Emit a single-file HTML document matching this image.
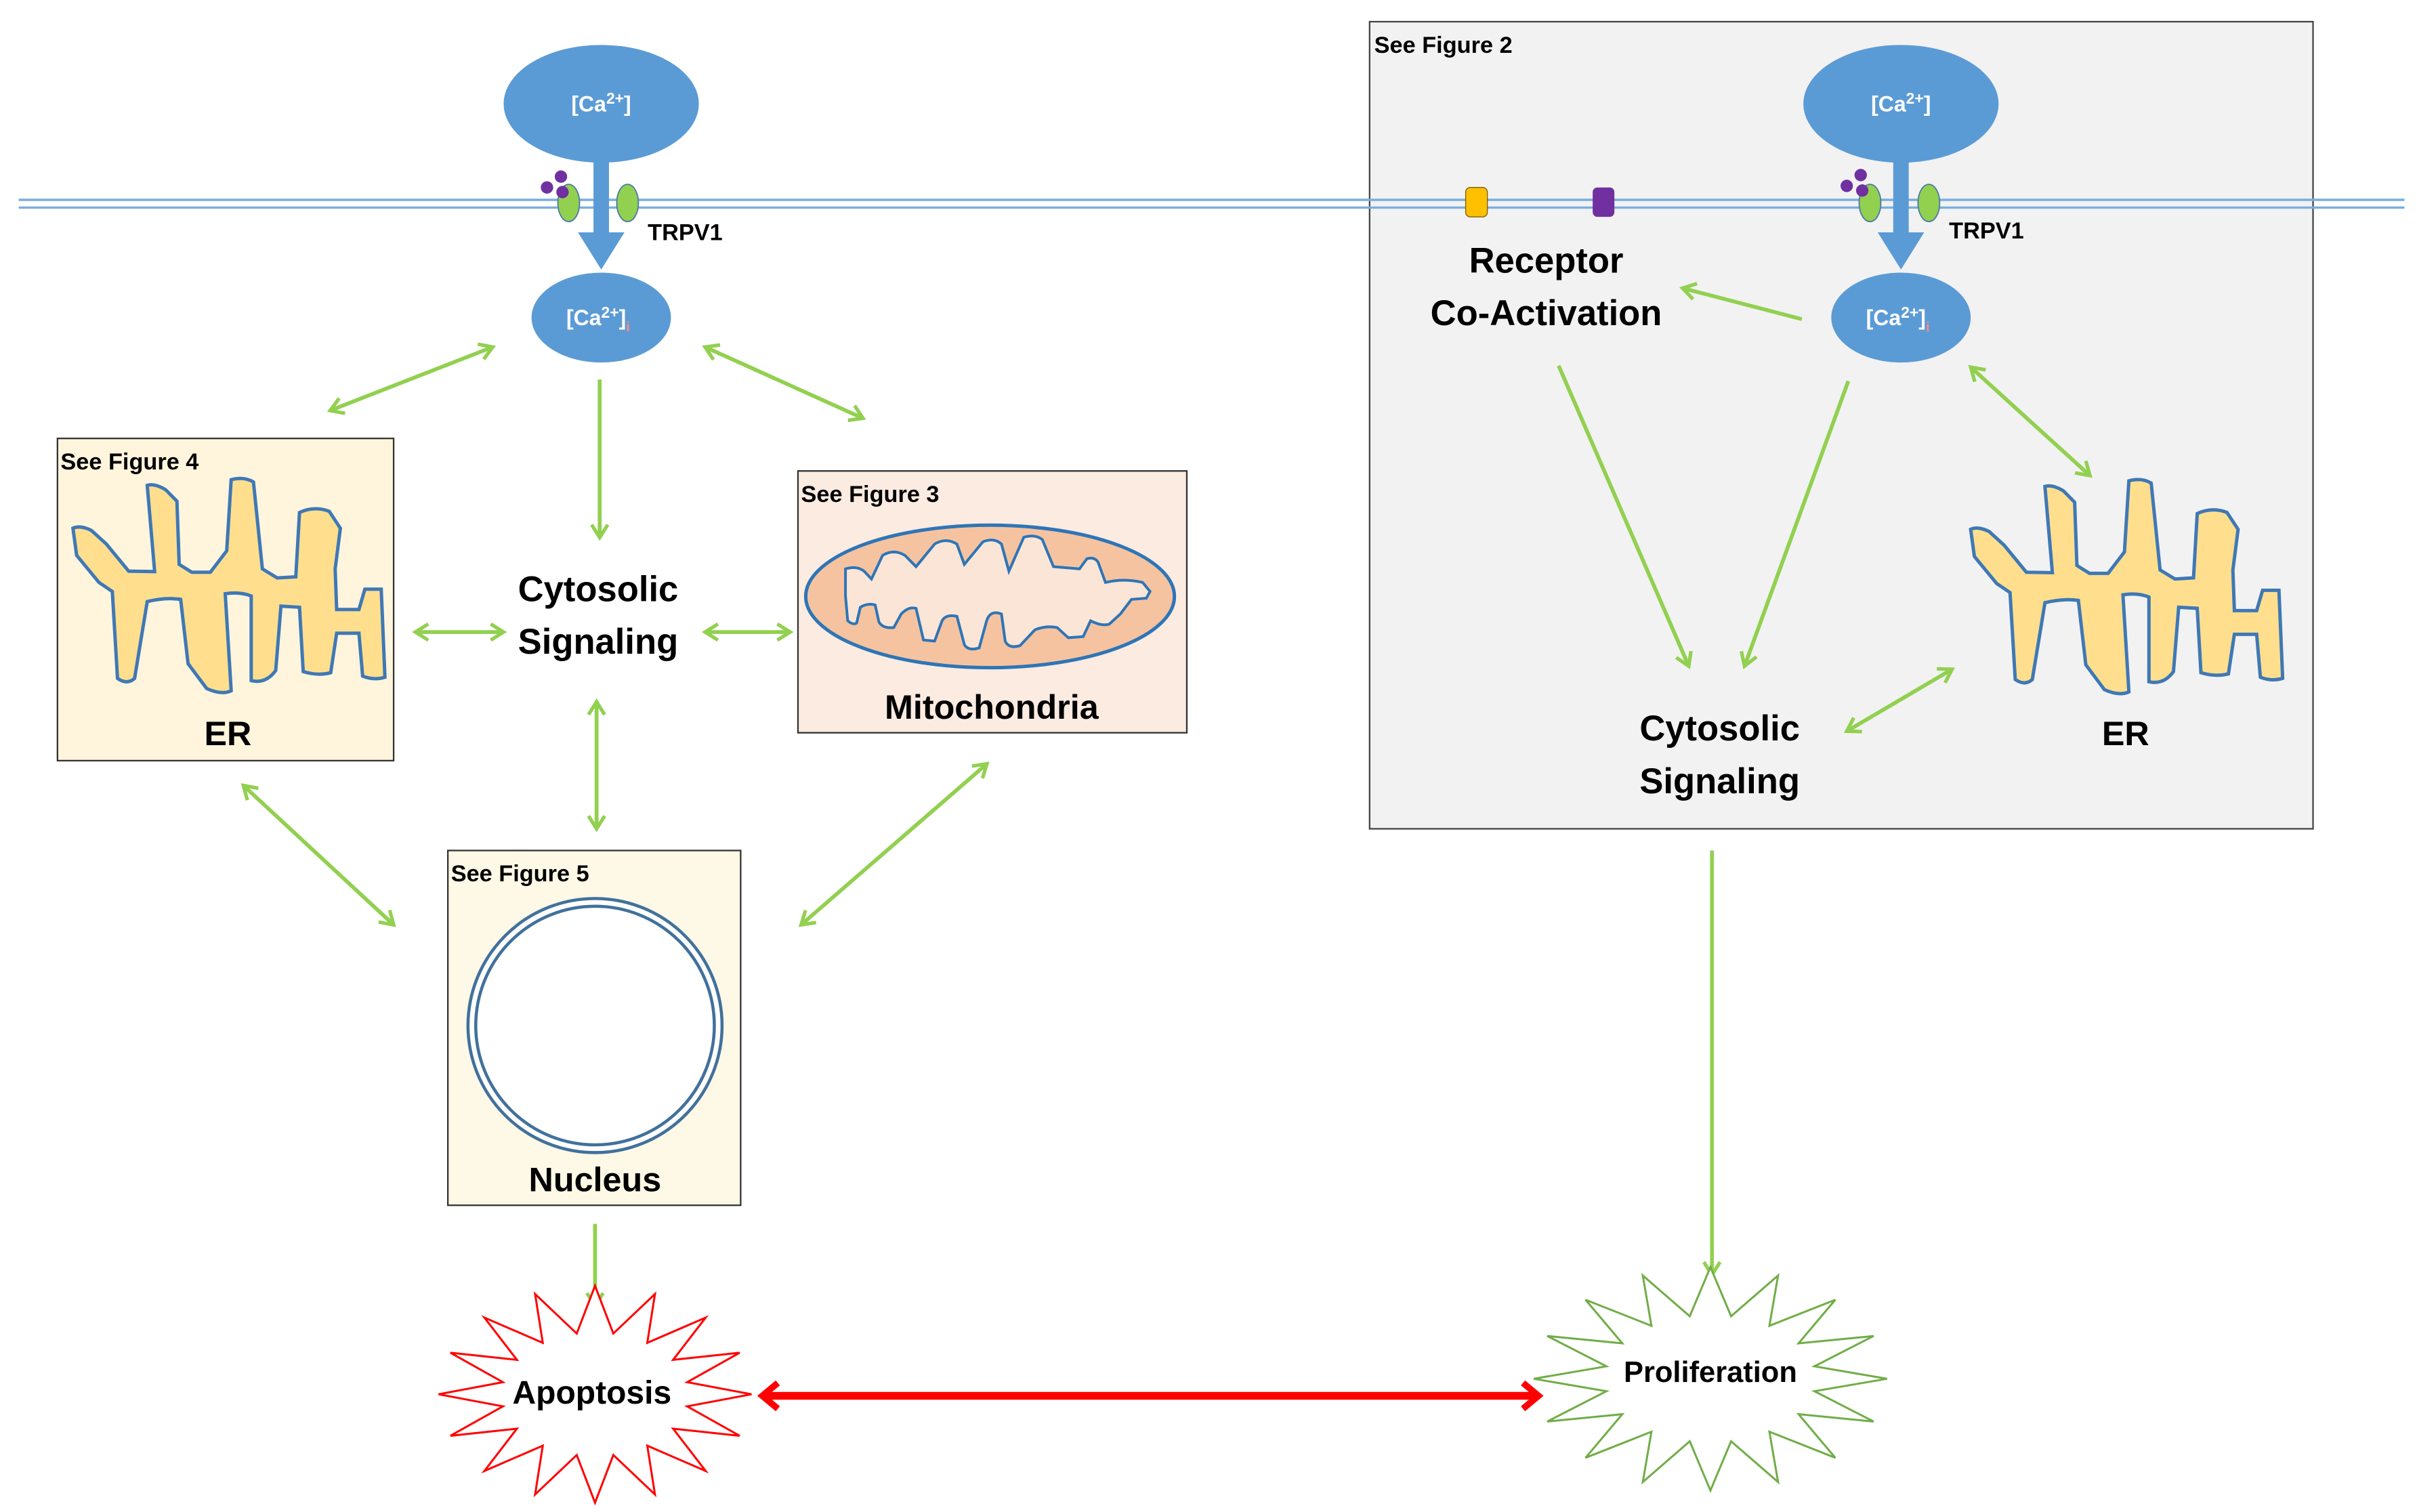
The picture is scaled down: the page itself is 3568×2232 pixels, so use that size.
<!DOCTYPE html>
<html><head><meta charset="utf-8"><style>
html,body{margin:0;padding:0;background:#fff;}
svg{display:block;}
text{font-family:"Liberation Sans Narrow","Liberation Sans",sans-serif;font-weight:bold;}
</style></head><body>
<svg width="3568" height="2232" viewBox="0 0 1560 976" xmlns="http://www.w3.org/2000/svg">
<defs>
<marker id="ga" viewBox="0 0 12 12" refX="10" refY="6" markerWidth="5" markerHeight="5" orient="auto-start-reverse" markerUnits="strokeWidth">
<polyline points="2,1 10,6 2,11" fill="none" stroke="#92d050" stroke-width="2.2"/>
</marker>
<marker id="ra" viewBox="0 0 12 12" refX="9" refY="6" markerWidth="4" markerHeight="4" orient="auto-start-reverse" markerUnits="strokeWidth">
<polyline points="3,1 9,6 3,11" fill="none" stroke="#ff0000" stroke-width="2.5"/>
</marker>
<path id="er" d="M25,420 Q35,405 50,430 L70,490 L100,610 L135,612 L125,230 Q135,220 150,250 L165,300 L168,580 L185,615 L210,615 L232,520 L238,205 Q255,190 268,215 L280,600 L300,640 L325,635 L330,350 Q350,320 370,345 L385,420 L378,600 L380,780 L410,780 L418,690 L440,690 L445,1080 Q430,1095 415,1075 L410,885 L380,885 L372,1060 Q355,1075 335,1055 L330,770 L305,765 L298,1050 Q285,1110 265,1095 L265,720 Q250,700 230,710 L238,1140 Q225,1160 205,1130 L180,1020 L170,735 Q150,725 125,745 L108,1085 Q98,1115 85,1085 L78,700 L60,660 L30,540 Z" fill="#ffdf8e" stroke="#3f78b5" stroke-width="5" vector-effect="non-scaling-stroke"/>
<polygon id="star" points="100,0 58.9,7.8 92.4,26.8 49.9,22.2 70.7,49.5 33.4,33.2 38.3,64.7 11.7,39.2 0,70 -11.7,39.2 -38.3,64.7 -33.4,33.2 -70.7,49.5 -49.9,22.2 -92.4,26.8 -58.9,7.8 -100,0 -58.9,-7.8 -92.4,-26.8 -49.9,-22.2 -70.7,-49.5 -33.4,-33.2 -38.3,-64.7 -11.7,-39.2 0,-70 11.7,-39.2 38.3,-64.7 33.4,-33.2 70.7,-49.5 49.9,-22.2 92.4,-26.8 58.9,-7.8" fill="#fff" vector-effect="non-scaling-stroke"/>
</defs>

<rect x="884" y="14" width="609" height="521" fill="#f2f2f2" stroke="#444" stroke-width="1"/>
<text x="887" y="34" font-size="15">See Figure 2</text>

<line x1="12" y1="129" x2="1552" y2="129" stroke="#7aaee0" stroke-width="1.5"/>
<line x1="12" y1="134" x2="1552" y2="134" stroke="#7aaee0" stroke-width="1.5"/>

<g>
<ellipse cx="388" cy="67" rx="63" ry="38" fill="#5b9bd5"/>
<text x="388" y="72" font-size="14" fill="#fff" text-anchor="middle" font-weight="normal">[Ca<tspan dy="-5" font-size="10">2+</tspan><tspan dy="5">]</tspan></text>
<ellipse cx="367" cy="131" rx="7" ry="12" fill="#92d050" stroke="#4a7aa8" stroke-width="0.8"/>
<ellipse cx="405" cy="131" rx="7" ry="12" fill="#92d050" stroke="#4a7aa8" stroke-width="0.8"/>
<circle cx="362" cy="114" r="4" fill="#7030a0"/><circle cx="353" cy="121" r="4" fill="#7030a0"/><circle cx="363" cy="124" r="4" fill="#7030a0"/>
<rect x="383" y="104" width="10" height="46" fill="#5b9bd5"/>
<polygon points="373,150 403,150 388,174" fill="#5b9bd5"/>
<text x="418" y="155" font-size="15">TRPV1</text>
<ellipse cx="388" cy="205" rx="45" ry="29" fill="#5b9bd5"/>
<text x="386" y="210" font-size="14" fill="#fff" text-anchor="middle" font-weight="normal">[Ca<tspan dy="-5" font-size="10">2+</tspan><tspan dy="5">]</tspan><tspan dy="4" font-size="9" fill="#f88">i</tspan></text>
</g>

<g>
<ellipse cx="1227" cy="67" rx="63" ry="38" fill="#5b9bd5"/>
<text x="1227" y="72" font-size="14" fill="#fff" text-anchor="middle" font-weight="normal">[Ca<tspan dy="-5" font-size="10">2+</tspan><tspan dy="5">]</tspan></text>
<ellipse cx="1207" cy="131" rx="7" ry="12" fill="#92d050" stroke="#4a7aa8" stroke-width="0.8"/>
<ellipse cx="1245" cy="131" rx="7" ry="12" fill="#92d050" stroke="#4a7aa8" stroke-width="0.8"/>
<circle cx="1201" cy="113" r="4" fill="#7030a0"/><circle cx="1192" cy="120" r="4" fill="#7030a0"/><circle cx="1202" cy="123" r="4" fill="#7030a0"/>
<rect x="1222" y="104" width="10" height="46" fill="#5b9bd5"/>
<polygon points="1212,150 1242,150 1227,174" fill="#5b9bd5"/>
<text x="1258" y="154" font-size="15">TRPV1</text>
<ellipse cx="1227" cy="205" rx="45" ry="29" fill="#5b9bd5"/>
<text x="1225" y="210" font-size="14" fill="#fff" text-anchor="middle" font-weight="normal">[Ca<tspan dy="-5" font-size="10">2+</tspan><tspan dy="5">]</tspan><tspan dy="4" font-size="9" fill="#f88">i</tspan></text>
</g>

<rect x="946" y="121" width="14" height="19" rx="3" fill="#ffc000" stroke="#7f6000" stroke-width="0.6"/>
<rect x="1028" y="121" width="14" height="19" rx="3" fill="#7030a0"/>
<text x="998" y="176" font-size="23" text-anchor="middle">Receptor</text>
<text x="998" y="210" font-size="23" text-anchor="middle">Co-Activation</text>

<rect x="37" y="283" width="217" height="208" fill="#fff5dc" stroke="#333" stroke-width="1"/>
<text x="39" y="303" font-size="15">See Figure 4</text>
<use href="#er" transform="translate(35,279.8) scale(0.4795,0.1457)"/>
<text x="147" y="481" font-size="22" text-anchor="middle">ER</text>

<rect x="515" y="304" width="251" height="169" fill="#fbebe1" stroke="#333" stroke-width="1"/>
<text x="517" y="324" font-size="15">See Figure 3</text>
<ellipse cx="639" cy="385" rx="119" ry="46" fill="#f6c3a0" stroke="#2e75b6" stroke-width="2.2"/>
<path transform="translate(35,279.8) scale(0.4795,0.1457)" vector-effect="non-scaling-stroke" d="M1065,600 Q1080,585 1090,610 L1100,645 L1115,540 Q1130,510 1145,540 L1160,590 L1185,490 Q1200,460 1215,490 L1225,580 L1250,480 Q1265,460 1275,490 L1285,610 L1305,460 Q1320,445 1330,470 L1345,590 L1380,600 L1390,555 Q1400,545 1405,570 L1415,660 Q1440,640 1465,660 L1475,700 L1470,730 L1450,735 L1435,800 L1420,845 Q1410,855 1395,830 L1385,900 L1365,905 L1350,860 Q1335,850 1320,870 L1300,940 Q1285,955 1280,920 L1275,800 Q1260,780 1255,830 L1245,950 Q1230,965 1225,935 L1215,810 Q1200,800 1195,830 L1185,920 L1170,915 L1160,775 Q1150,765 1140,800 L1130,860 Q1115,865 1110,835 L1105,760 Q1095,750 1085,770 L1080,840 Q1075,850 1068,830 L1065,720 Z" fill="#fbe5d6" stroke="#2e75b6" stroke-width="4"/>
<text x="640" y="464" font-size="22" text-anchor="middle">Mitochondria</text>

<rect x="289" y="549" width="189" height="229" fill="#fef8e6" stroke="#333" stroke-width="1"/>
<text x="291" y="569" font-size="15">See Figure 5</text>
<circle cx="384" cy="662" r="82" fill="#fff" stroke="#41719c" stroke-width="2"/>
<circle cx="384" cy="662" r="77" fill="#fff" stroke="#41719c" stroke-width="2"/>
<text x="384" y="769" font-size="22" text-anchor="middle">Nucleus</text>

<text x="386" y="388" font-size="23" text-anchor="middle">Cytosolic</text>
<text x="386" y="422" font-size="23" text-anchor="middle">Signaling</text>

<use href="#er" transform="translate(1260,280.5) scale(0.4795,0.1457)"/>
<text x="1372" y="481" font-size="22" text-anchor="middle">ER</text>
<text x="1110" y="478" font-size="23" text-anchor="middle">Cytosolic</text>
<text x="1110" y="512" font-size="23" text-anchor="middle">Signaling</text>

<g stroke="#92d050" stroke-width="2.5" fill="none">
<line x1="318" y1="224" x2="213" y2="265" marker-start="url(#ga)" marker-end="url(#ga)"/>
<line x1="455" y1="224" x2="557" y2="270" marker-start="url(#ga)" marker-end="url(#ga)"/>
<line x1="387" y1="245" x2="387" y2="347" marker-end="url(#ga)"/>
<line x1="268" y1="408" x2="325" y2="408" marker-start="url(#ga)" marker-end="url(#ga)"/>
<line x1="455" y1="408" x2="510" y2="408" marker-start="url(#ga)" marker-end="url(#ga)"/>
<line x1="385" y1="453" x2="385" y2="535" marker-start="url(#ga)" marker-end="url(#ga)"/>
<line x1="157" y1="507" x2="254" y2="597" marker-start="url(#ga)" marker-end="url(#ga)"/>
<line x1="637" y1="493" x2="517" y2="597" marker-start="url(#ga)" marker-end="url(#ga)"/>
<line x1="384" y1="790" x2="384" y2="843" marker-end="url(#ga)"/>
<line x1="1163" y1="206" x2="1086" y2="186" marker-end="url(#ga)"/>
<line x1="1006" y1="236" x2="1090" y2="430" marker-end="url(#ga)"/>
<line x1="1193" y1="246" x2="1126" y2="430" marker-end="url(#ga)"/>
<line x1="1272" y1="237" x2="1349" y2="307" marker-start="url(#ga)" marker-end="url(#ga)"/>
<line x1="1260" y1="432" x2="1192" y2="472" marker-start="url(#ga)" marker-end="url(#ga)"/>
<line x1="1105" y1="549" x2="1105" y2="823" marker-end="url(#ga)"/>
</g>

<use href="#star" transform="translate(384,900) scale(1.01,1.0)" stroke="#ff0000" stroke-width="3"/>
<text x="382" y="906" font-size="21" text-anchor="middle">Apoptosis</text>
<use href="#star" transform="translate(1104,890) scale(1.14,1.03)" stroke="#70ad47" stroke-width="3"/>
<text x="1104" y="892" font-size="19" text-anchor="middle">Proliferation</text>

<line x1="492" y1="901" x2="993" y2="901" stroke="#ff0000" stroke-width="5" marker-start="url(#ra)" marker-end="url(#ra)"/>
</svg>
</body></html>
